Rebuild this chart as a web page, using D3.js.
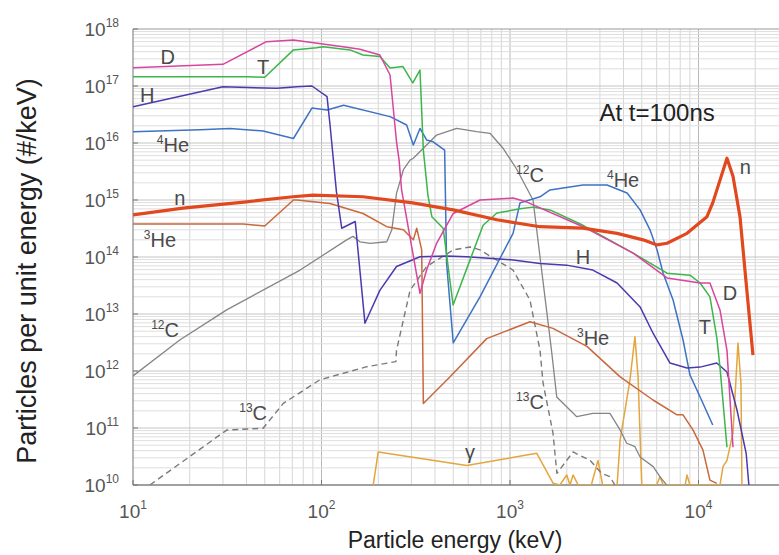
<!DOCTYPE html>
<html><head><meta charset="utf-8">
<script src="https://cdn.jsdelivr.net/npm/d3@7"></script>
<style>
body{margin:0;background:#fff}
svg{display:block}
text{font-family:"Liberation Sans",Arial,Helvetica,sans-serif}
</style>
</head><body>
<svg id="chart" width="779" height="555"></svg>
<script>
// ---- data (energy in keV, particles per keV) ----
const xTickValues = [1e1, 1e2, 1e3, 1e4];
const xTickExps = ["1", "2", "3", "4"];
const yTickValues = [1e10, 1e11, 1e12, 1e13, 1e14, 1e15, 1e16, 1e17, 1e18];
const yTickExps = ["10", "11", "12", "13", "14", "15", "16", "17", "18"];

const seriesD = [[10,2.1e17],[30,2.4e17],[51,6.0e17],[71,6.4e17],[130,4.9e17],[160,4.4e17],[204,3.5e17],[231,1.56e17],[250,1.05e16],[258,5e15],[266,1.5e15],[333,2.3e13],[361,5.9e13],[408,1.74e14],[500,5.8e14],[693,1.0e15],[1038,1.08e15],[1230,9.2e14],[2440,3.4e14],[4500,1.17e14],[6810,4.3e13],[10200,3.5e13],[11500,3.5e13],[13000,1.18e13],[14160,2.3e12],[15240,4.6e10]];
const seriesT = [[10,1.46e17],[40,1.46e17],[50,1.42e17],[71,4.3e17],[94,4.7e17],[102,4.9e17],[142,4.3e17],[166,3.5e17],[204,3.3e17],[231,2.07e17],[270,2.2e17],[305,1.13e17],[333,1.9e17],[347,7.5e15],[367,1.2e15],[385,5.1e14],[442,3.2e14],[499,1.44e13],[614,8.9e13],[720,3.6e14],[852,5.9e14],[1130,7.0e14],[1325,7.5e14],[1630,6.7e14],[2440,3.6e14],[4500,1.17e14],[6810,5.2e13],[9010,4.8e13],[10200,3.5e13],[11500,2.0e13],[12500,3.9e12],[13000,1.17e12],[14160,4.6e10]];
const seriesH = [[10,4.3e16],[30,9.7e16],[58,9.1e16],[74,9.7e16],[89,1.0e17],[107,6.5e16],[111,2.07e16],[120,1.4e15],[128,3.2e14],[151,4.2e14],[170,6.9e12],[204,2.6e13],[250,6.8e13],[333,1.01e14],[461,1.04e14],[589,1.01e14],[1038,8.9e13],[1443,7.7e13],[2000,7.2e13],[2750,5.9e13],[3700,3.5e13],[4900,1.33e13],[5740,4.6e12],[7060,1.38e12],[8690,1.13e12],[10200,1.17e12],[12500,1.38e12],[14160,9.6e11],[16000,2.07e11],[17900,3.6e10],[18500,1e10]];
const seriesHe4 = [[10,1.58e16],[22.7,1.7e16],[32.7,1.8e16],[49,1.63e16],[71,1.2e16],[89,4.1e16],[107,3.8e16],[131,4.6e16],[231,2.9e16],[283,2.07e16],[307,9.2e15],[333,1.8e16],[361,1.13e16],[391,1.05e16],[450,7.5e15],[461,7.7e13],[500,3.1e12],[693,2.0e13],[1038,2.6e14],[1130,8.9e14],[1443,1.14e15],[1630,1.5e15],[2440,1.83e15],[3270,1.83e15],[4180,1.33e15],[4900,6.7e14],[5530,3.0e14],[6030,1.33e14],[6490,5.2e13],[7330,1.76e13],[8280,3.5e12],[9010,8.5e11],[10200,3.5e11],[11900,1.13e11]];
const seriesN = [[10,5.5e14],[18.4,7.2e14],[40,9.3e14],[70.6,1.14e15],[90,1.22e15],[166,1.14e15],[305,8.9e14],[499,6.7e14],[852,4.5e14],[1443,3.4e14],[2440,3.2e14],[3700,2.6e14],[5080,2.0e14],[6030,1.63e14],[6810,1.74e14],[8690,2.6e14],[11090,5.1e14],[11900,8.9e14],[14160,5.4e15],[15240,2.6e15],[16600,5.1e14],[17900,3.5e13],[19450,1.9e12]];
const seriesHe3 = [[10,3.8e14],[38.4,3.8e14],[50,3.5e14],[71,1.0e15],[74,1.0e15],[111,8.7e14],[166,5.8e14],[222,3.4e14],[272,3.0e14],[307,2.0e14],[320,3.2e14],[340,1.33e14],[347,2.7e11],[481,7.9e11],[752,3.7e12],[1276,7.3e12],[1690,5.6e12],[2560,2.7e12],[3840,7.9e11],[5740,3.1e11],[7690,1.7e11],[8280,1.7e11],[9360,9.2e10],[10560,4.1e10],[11500,1.22e10],[12500,1.07e10]];
const seriesC12 = [[10,8.2e11],[17.7,3.5e12],[31.4,1.18e13],[77,5.9e13],[136,2.0e14],[147,2.3e14],[160,1.85e14],[181,1.74e14],[222,1.85e14],[236,3.0e14],[250,1.31e15],[272,3.4e15],[295,5.0e15],[307,5.4e15],[347,8.1e15],[408,1.38e16],[521,1.8e16],[665,1.58e16],[783,1.48e16],[921,8e15],[1084,3.5e15],[1325,1.0e15],[1660,2.3e12],[1770,3.5e11],[2080,2.07e11],[2260,1.58e11],[2750,1.8e11],[3390,1.8e11],[3840,9.2e10],[4160,5.4e10],[4600,4.7e10],[4900,3.1e10],[5750,2.1e10],[6240,1.4e10],[6770,1e10]];
const seriesC13 = [[12.3,1e10],[31.4,9.2e10],[49,9.9e10],[62.7,2.7e11],[98,7e11],[174,1.19e12],[248,1.46e12],[250,2.3e12],[295,2.6e13],[361,6.8e13],[500,1.33e14],[614,1.5e14],[693,1.33e14],[1038,5.9e13],[1276,1.76e13],[1443,2.3e12],[1497,6.2e11],[1690,8.2e10],[1774,1.6e10],[2160,3.8e10],[2660,2.7e10],[3060,1.6e10],[3390,1.4e10],[3600,1e10]];
const seriesGamma = [[188,1e10],[200,3.8e10],[589,2.2e10],[1387,3.6e10],[1695,1.07e10],[1840,1e10],[2000,1.5e10],[2080,1e10],[2160,1.5e10],[2300,1e10],[2700,1e10],[2930,2.7e10],[3100,1e10],[3700,1e10],[3840,6.2e10],[4330,7e11],[4600,4e12],[4780,7.9e11],[5000,1e10],[6000,1e10],[6240,1.4e10],[6500,1e10],[8500,1e10],[8690,1.5e10],[9000,1e10],[13000,1e10],[13490,2.1e10],[14160,2.7e10],[15240,8.2e10],[16200,3.1e12],[16800,6e11],[17000,1e10]];

// labels: [superscript, text, energy, value]
const labelSup = ["", "", "", "4", "", "3", "12", "13", "12", "4", "", "", "", "", "3", "13", ""];
const labelText = ["D", "T", "H", "He", "n", "He", "C", "C", "C", "He", "n", "H", "D", "T", "He", "C", "γ"];
const labelE = [15.3, 49, 11.9, 16.3, 17.7, 13.9, 14.8, 43.4, 1276, 3980, 17700, 2440, 14700, 10800, 2760, 1276, 614];
const labelV = [3.2e17, 2.15e17, 6.9e16, 9.2e15, 1.08e15, 2e14, 5.3e12, 1.8e11, 2.75e15, 2.2e15, 3.8e15, 1e14, 2.3e13, 5.9e12, 3.8e12, 2.9e11, 3.8e10];

// ---- chart ----
const svg = d3.select("#chart");
const L = 133, T = 29, B = 485, R = 779;
const x = d3.scaleLog().domain([10, Math.pow(10, 4.5)]).range([L, L + 3.5 * 188.5]);
const y = d3.scaleLog().domain([1e10, 1e18]).range([B, T]);

svg.append("defs").append("clipPath").attr("id", "clip")
  .append("rect").attr("x", L).attr("y", T).attr("width", R - L).attr("height", B - T);

const grid = svg.append("g");
const xg = [];
for (let k = 1; k <= 4; k++) for (let i = 1; i <= 9; i++) { const v = i * Math.pow(10, k); if (x(v) < R && v > 10) xg.push([v, i === 1]); }
grid.selectAll("line.vg").data(xg).join("line")
  .attr("x1", d => x(d[0])).attr("x2", d => x(d[0])).attr("y1", T).attr("y2", B)
  .attr("stroke", d => d[1] ? "#b8b8b8" : "#d6d6d6").attr("stroke-width", 1);
const yg = [];
for (let k = 10; k <= 17; k++) for (let i = 1; i <= 9; i++) { const v = i * Math.pow(10, k); if (v > 1e10 && v < 1e18) yg.push([v, i === 1]); }
grid.selectAll("line.hg").data(yg).join("line")
  .attr("x1", L).attr("x2", R).attr("y1", d => y(d[0])).attr("y2", d => y(d[0]))
  .attr("stroke", d => d[1] ? "#c4c4c4" : "#dedede").attr("stroke-width", 1);

// frame
svg.append("line").attr("x1", L).attr("x2", R).attr("y1", T).attr("y2", T).attr("stroke", "#9a9a9a").attr("stroke-width", 1.2);
svg.append("line").attr("x1", L).attr("x2", L).attr("y1", T).attr("y2", B).attr("stroke", "#8a8a8a").attr("stroke-width", 1.2);
svg.append("line").attr("x1", L).attr("x2", R).attr("y1", B).attr("y2", B).attr("stroke", "#808080").attr("stroke-width", 1.5);

// ticks
svg.selectAll("line.yt").data(yTickValues).join("line")
  .attr("x1", L).attr("x2", L + 5).attr("y1", d => y(d)).attr("y2", d => y(d)).attr("stroke", "#777");
svg.selectAll("line.xt").data(xTickValues).join("line")
  .attr("x1", d => x(d)).attr("x2", d => x(d)).attr("y1", B).attr("y2", B - 5).attr("stroke", "#777");

// tick labels
const ytl = svg.selectAll("text.ytl").data(yTickValues).join("text")
  .attr("x", 119).attr("y", d => y(d) + 7).attr("text-anchor", "end").attr("fill", "#555").attr("font-size", 19);
ytl.append("tspan").text("10");
ytl.append("tspan").attr("font-size", 12).attr("dy", -9).text((d, i) => yTickExps[i]);

const xtl = svg.selectAll("text.xtl").data(xTickValues).join("text")
  .attr("x", d => x(d)).attr("y", 518).attr("text-anchor", "middle").attr("fill", "#555").attr("font-size", 19);
xtl.append("tspan").text("10");
xtl.append("tspan").attr("font-size", 12).attr("dy", -9).text((d, i) => xTickExps[i]);

// axis titles
svg.append("text").attr("x", 455).attr("y", 548).attr("text-anchor", "middle")
  .attr("font-size", 23).attr("fill", "#222").text("Particle energy (keV)");
svg.append("text").attr("transform", "translate(36,271) rotate(-90)").attr("text-anchor", "middle")
  .attr("font-size", 27).attr("fill", "#222").text("Particles per unit  energy (#/keV)");

// lines
const line = d3.line().x(d => x(d[0])).y(d => y(d[1]));
const plot = svg.append("g").attr("clip-path", "url(#clip)");
const seriesList = [
  {data: seriesGamma, color: "#e4a53c", w: 1.5},
  {data: seriesC13, color: "#7a7a7a", w: 1.4, dash: "6,4"},
  {data: seriesC12, color: "#858585", w: 1.3},
  {data: seriesHe3, color: "#c9683c", w: 1.5},
  {data: seriesHe4, color: "#3d72c4", w: 1.5},
  {data: seriesH, color: "#4b3aad", w: 1.5},
  {data: seriesT, color: "#3cb54a", w: 1.5},
  {data: seriesD, color: "#d8449e", w: 1.5},
  {data: seriesN, color: "#e2481e", w: 3.2}
];
plot.selectAll("path.s").data(seriesList).join("path")
  .attr("d", d => line(d.data)).attr("fill", "none")
  .attr("stroke", d => d.color).attr("stroke-width", d => d.w)
  .attr("stroke-dasharray", d => d.dash || null).attr("stroke-linejoin", "round");

// curve labels
const lab = svg.selectAll("text.lab").data(labelText).join("text")
  .attr("x", (d, i) => x(labelE[i])).attr("y", (d, i) => y(labelV[i]) + 7)
  .attr("text-anchor", "middle").attr("fill", "#4a4a4a").attr("font-size", 20);
lab.append("tspan").attr("font-size", 12).attr("dy", (d, i) => labelSup[i] ? -8 : 0).text((d, i) => labelSup[i]);
lab.append("tspan").attr("dy", (d, i) => labelSup[i] ? 8 : 0).text(d => d);

svg.append("text").attr("x", x(6030)).attr("y", y(3.5e16) + 9).attr("text-anchor", "middle")
  .attr("font-size", 24).attr("fill", "#222").text("At t=100ns");
</script>
</body></html>
